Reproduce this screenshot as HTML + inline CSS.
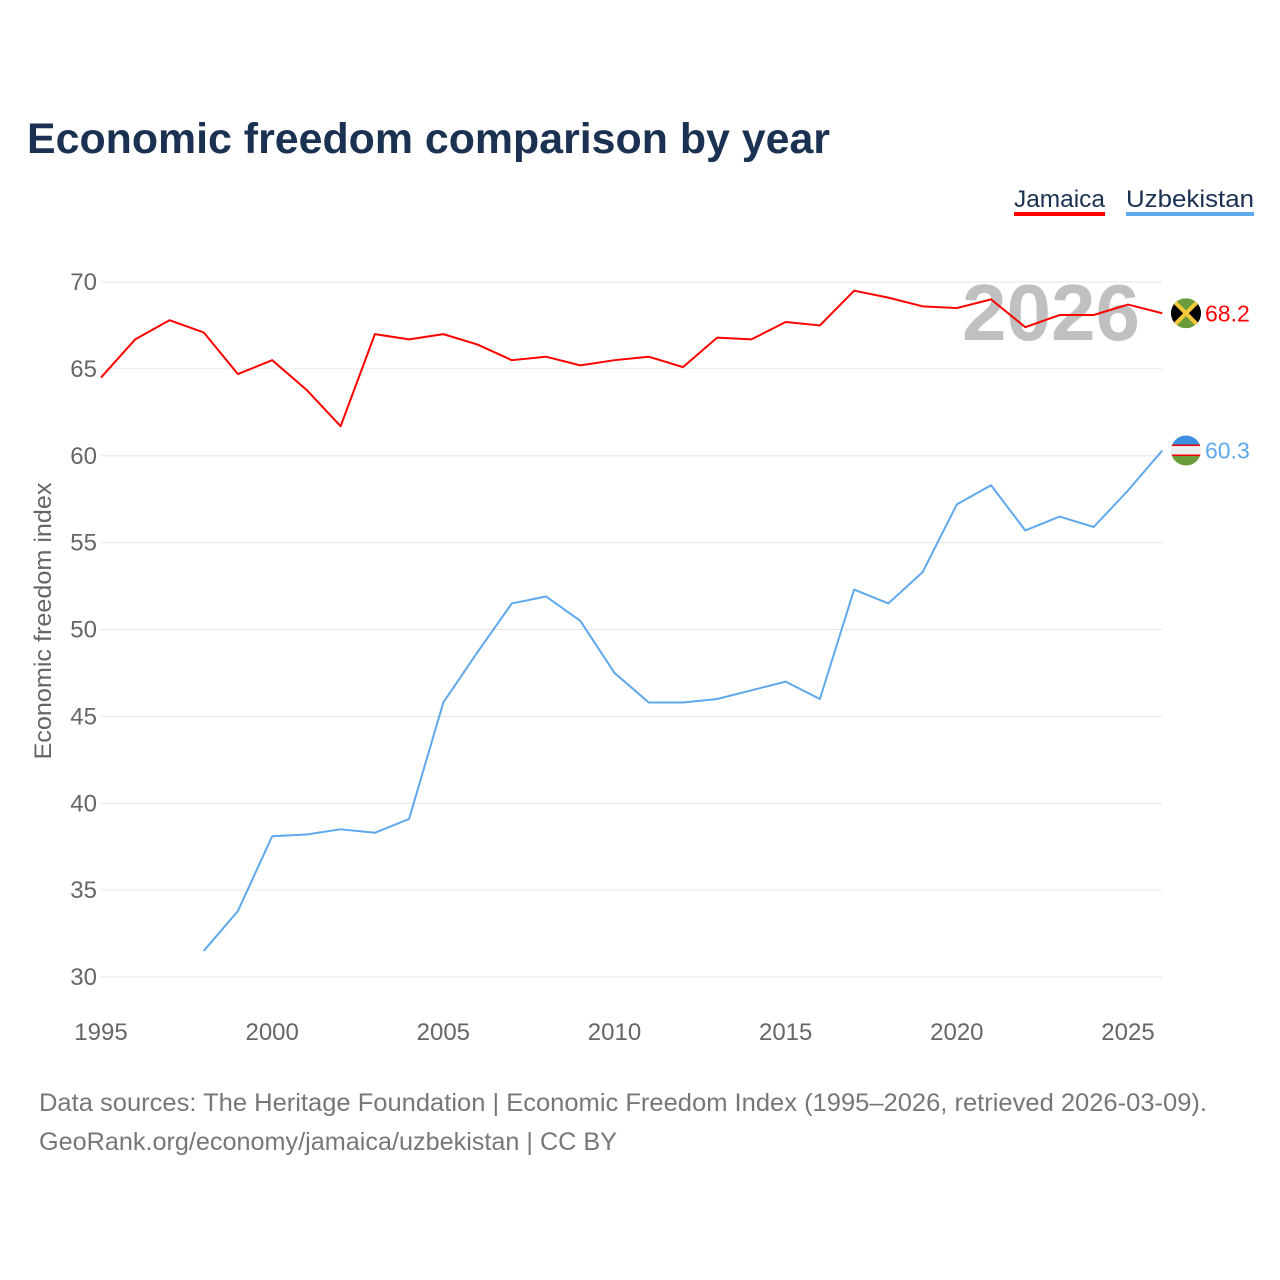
<!DOCTYPE html>
<html><head><meta charset="utf-8">
<style>
body{margin:0;background:#fff;font-family:"Liberation Sans",sans-serif;}
#wrap{position:relative;width:1280px;height:1280px;overflow:hidden;}
</style></head>
<body><div id="wrap">
<svg id="svg" width="1280" height="1280">
<text x="27" y="153" font-size="43" font-weight="bold" fill="#1b3152" textLength="803" lengthAdjust="spacingAndGlyphs">Economic freedom comparison by year</text>
<g>
<text x="1014" y="207" font-size="24" fill="#1b3152" textLength="91" lengthAdjust="spacingAndGlyphs">Jamaica</text>
<rect x="1014" y="212" width="91" height="4" fill="#ff0000"/>
<text x="1126" y="207" font-size="24" fill="#1b3152" textLength="128" lengthAdjust="spacingAndGlyphs">Uzbekistan</text>
<rect x="1126" y="212" width="128" height="4" fill="#5fa8ec"/>
</g>
<text x="1140" y="340" font-size="80" font-weight="bold" fill="#c0c0c0" text-anchor="end">2026</text>
<text transform="translate(51,621) rotate(-90)" font-size="24" fill="#666" text-anchor="middle" textLength="277" lengthAdjust="spacingAndGlyphs">Economic freedom index</text>
<g id="grid"></g><g id="series"></g>
<text x="39" y="1111" font-size="25" fill="#777" textLength="1168" lengthAdjust="spacingAndGlyphs">Data sources: The Heritage Foundation | Economic Freedom Index (1995–2026, retrieved 2026-03-09).</text>
<text x="39" y="1150" font-size="25" fill="#777" textLength="578" lengthAdjust="spacingAndGlyphs">GeoRank.org/economy/jamaica/uzbekistan | CC BY</text>
</svg>
<script>
const yTicks=[30,35,40,45,50,55,60,65,70];
const xTicks=[1995,2000,2005,2010,2015,2020,2025];
const jamYears=[1995,1996,1997,1998,1999,2000,2001,2002,2003,2004,2005,2006,2007,2008,2009,2010,2011,2012,2013,2014,2015,2016,2017,2018,2019,2020,2021,2022,2023,2024,2025,2026];
const jamaica=[64.5,66.7,67.8,67.1,64.7,65.5,63.8,61.7,67.0,66.7,67.0,66.4,65.5,65.7,65.2,65.5,65.7,65.1,66.8,66.7,67.7,67.5,69.5,69.1,68.6,68.5,69.0,67.4,68.1,68.1,68.7,68.2];
const uzbYears=[1998,1999,2000,2001,2002,2003,2004,2005,2006,2007,2008,2009,2010,2011,2012,2013,2014,2015,2016,2017,2018,2019,2020,2021,2022,2023,2024,2025,2026];
const uzbekistan=[31.5,33.8,38.1,38.2,38.5,38.3,39.1,45.8,48.7,51.5,51.9,50.5,47.5,45.8,45.8,46.0,46.5,47.0,46.0,52.3,51.5,53.3,57.2,58.3,55.7,56.5,55.9,58.0,60.3];
const NS="http://www.w3.org/2000/svg";
const X=y=>101+(y-1995)*(1128-101)/30;
const Y=v=>282+(70-v)*(977-282)/40;
function mk(t,a,p){const e=document.createElementNS(NS,t);for(const k in a)e.setAttribute(k,a[k]);p.appendChild(e);return e;}
const grid=document.getElementById('grid'),ser=document.getElementById('series');
yTicks.forEach(v=>{
 const l=mk('line',{x1:101,x2:1162,y1:Y(v),y2:Y(v),stroke:'#e6e6e6','stroke-width':1},grid);
 
 
 const t=mk('text',{x:97,y:Y(v)+8,'font-size':24,fill:'#666','text-anchor':'end'},grid);t.textContent=v;
 
 
});
xTicks.forEach(v=>{
 const t=mk('text',{x:X(v),y:1040,'font-size':24,fill:'#666','text-anchor':'middle'},grid);t.textContent=v;
 
 
});
function line(years,vals,col,name){
 const p=mk('polyline',{points:years.map((y,i)=>X(y)+','+Y(vals[i])).join(' '),fill:'none',stroke:col,'stroke-width':2,'stroke-linejoin':'round'},ser);
 
 
 const lv=vals[vals.length-1];
 const t=mk('text',{x:1205,y:Y(lv)+8,'font-size':23,fill:col},ser);t.textContent=lv.toFixed(1);
 
 
 return Y(lv);
}
const jy=line(jamYears,jamaica,'#ff0000','jamaica');
const uy=line(uzbYears,uzbekistan,'#5fa8ec','uzbekistan');
const fj=mk('g',{},ser);


const cj=mk('clipPath',{id:'cj'},fj);mk('circle',{cx:1186,cy:jy,r:15},cj);
const gj=mk('g',{'clip-path':'url(#cj)'},fj);
mk('rect',{x:1171,y:jy-15,width:30,height:30,fill:'#6a9c3a'},gj);
mk('polygon',{points:`1171,${jy-15} 1186,${jy} 1171,${jy+15}`,fill:'#000'},gj);
mk('polygon',{points:`1201,${jy-15} 1186,${jy} 1201,${jy+15}`,fill:'#000'},gj);
mk('line',{x1:1171,y1:jy-15,x2:1201,y2:jy+15,stroke:'#f5c93a','stroke-width':4},gj);
mk('line',{x1:1201,y1:jy-15,x2:1171,y2:jy+15,stroke:'#f5c93a','stroke-width':4},gj);
const fu=mk('g',{},ser);


const cu=mk('clipPath',{id:'cu'},fu);mk('circle',{cx:1186,cy:uy,r:15},cu);
const gu=mk('g',{'clip-path':'url(#cu)'},fu);
mk('rect',{x:1171,y:uy-15,width:30,height:10,fill:'#3d8fe0'},gu);
mk('rect',{x:1171,y:uy-5,width:30,height:10,fill:'#eee'},gu);
mk('rect',{x:1171,y:uy+5,width:30,height:10,fill:'#6a9c3a'},gu);
mk('rect',{x:1171,y:uy-6,width:30,height:1.5,fill:'#e00'},gu);
mk('rect',{x:1171,y:uy+4,width:30,height:1.5,fill:'#e00'},gu);
</script>
</div></body></html>
